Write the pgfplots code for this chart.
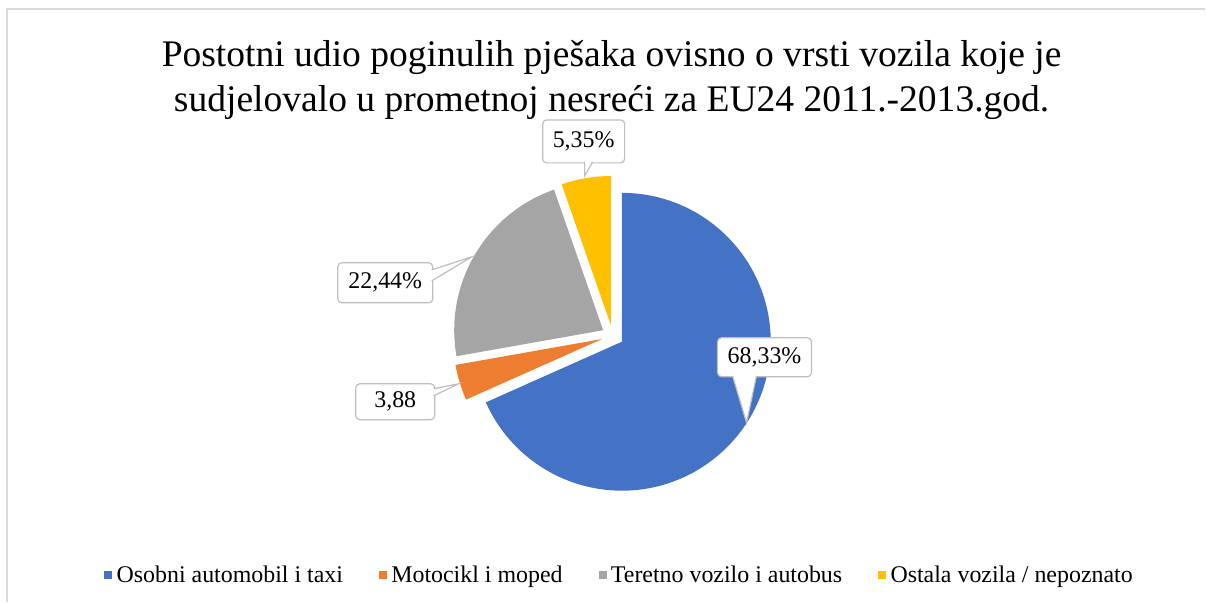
\documentclass[border=0pt]{standalone}
\usepackage{fontspec}
\setmainfont{Liberation Serif}
\usepackage{pgfplots}
\usepackage{pgfplotstable}
\pgfplotsset{compat=1.18}

\definecolor{pieblue}{HTML}{4472C4}
\definecolor{pieorange}{HTML}{ED7D31}
\definecolor{piegray}{HTML}{A5A5A5}
\definecolor{pieyellow}{HTML}{FFC000}
\definecolor{framegray}{HTML}{D9D9D9}
\definecolor{boxgray}{HTML}{BFBFBF}

% udio u postocima, redom od vrha u smjeru kazaljke
\pgfplotstableread[col sep=comma]{
name,value,color
Osobni automobil i taxi,68.33,pieblue
Motocikl i moped,3.88,pieorange
Teretno vozilo i autobus,22.44,piegray
Ostala vozila / nepoznato,5.35,pieyellow
}\piedata

\pgfplotsset{
  legend image code/.code={\fill[#1] (0bp,-3.5bp) rectangle (7bp,3.5bp);
    \path (10bp,0bp);},
}
\tikzset{
  lbl/.style={rectangle, draw=boxgray, fill=white, line width=1.2bp,
    rounded corners=4bp, inner sep=0pt, font=\fontsize{24}{28}\selectfont},
  ptr/.style={fill=white, draw=boxgray, line width=1.2bp},
}

\begin{document}
\begin{tikzpicture}
\begin{axis}[
  scale only axis, width=1206bp, height=602bp,
  xmin=0, xmax=1206, ymin=0, ymax=602,
  hide axis, clip=false,
  legend columns=4,
  legend style={at={(0.514,0.045)}, anchor=center, draw=none, fill=none,
    font=\fontsize{24}{28}\selectfont, cells={anchor=west},
    /tikz/every even column/.append style={column sep=34bp}},
]
\path (axis cs:0,0) rectangle (axis cs:1206,602);
\draw[framegray, line width=1.5bp] (axis cs:7,0) -- (axis cs:7,593) -- (axis cs:1206,593);

\node[anchor=base, font=\fontsize{37.7}{44}\selectfont] at (axis cs:612,535)
  {Postotni udio poginulih pješaka ovisno o vrsti vozila koje je};
\node[anchor=base, font=\fontsize{37.7}{44}\selectfont] at (axis cs:612,490)
  {sudjelovalo u prometnoj nesreći za EU24 2011.-2013.god.};

\pgfplotsextra{
  \pgfplotstablegetrowsof{\piedata}
  \pgfmathtruncatemacro\nrows{\pgfplotsretval-1}
  \gdef\startangle{90}
  \foreach \i in {0,...,\nrows}{
    \pgfplotstablegetelem{\i}{value}\of\piedata
    \let\val\pgfplotsretval
    \pgfplotstablegetelem{\i}{color}\of\piedata
    \let\col\pgfplotsretval
    \pgfmathsetmacro\endangle{\startangle-3.6*\val}
    \pgfmathsetmacro\midangle{(\startangle+\endangle)/2}
    \fill[\col] (axis cs:613,266) ++(\midangle:11bp) -- ++(\startangle:149bp)
      arc[start angle=\startangle, end angle=\endangle, radius=149bp] -- cycle;
    \xdef\startangle{\endangle}
  }
}

% oznake podataka (oblacici)
\node[lbl, minimum width=94bp, minimum height=39bp] at (axis cs:765,244.5) {68,33\%};
\filldraw[ptr] (axis cs:733,226) -- (axis cs:747,179) -- (axis cs:757,226);
\node[lbl, minimum width=79bp, minimum height=36bp] at (axis cs:395.5,200) {3,88};
\filldraw[ptr] (axis cs:434,213) -- (axis cs:459,218) -- (axis cs:434,206);
\node[lbl, minimum width=95bp, minimum height=40bp] at (axis cs:385.5,319) {22,44\%};
\filldraw[ptr] (axis cs:432,332) -- (axis cs:472,345) -- (axis cs:432,321);
\node[lbl, minimum width=82bp, minimum height=43bp] at (axis cs:584,460.5) {5,35\%};
\filldraw[ptr] (axis cs:585,440) -- (axis cs:585,426) -- (axis cs:593,440);

\addlegendimage{pieblue}
\addlegendentry{Osobni automobil i taxi}
\addlegendimage{pieorange}
\addlegendentry{Motocikl i moped}
\addlegendimage{piegray}
\addlegendentry{Teretno vozilo i autobus}
\addlegendimage{pieyellow}
\addlegendentry{Ostala vozila / nepoznato}
\end{axis}
\end{tikzpicture}
\end{document}
